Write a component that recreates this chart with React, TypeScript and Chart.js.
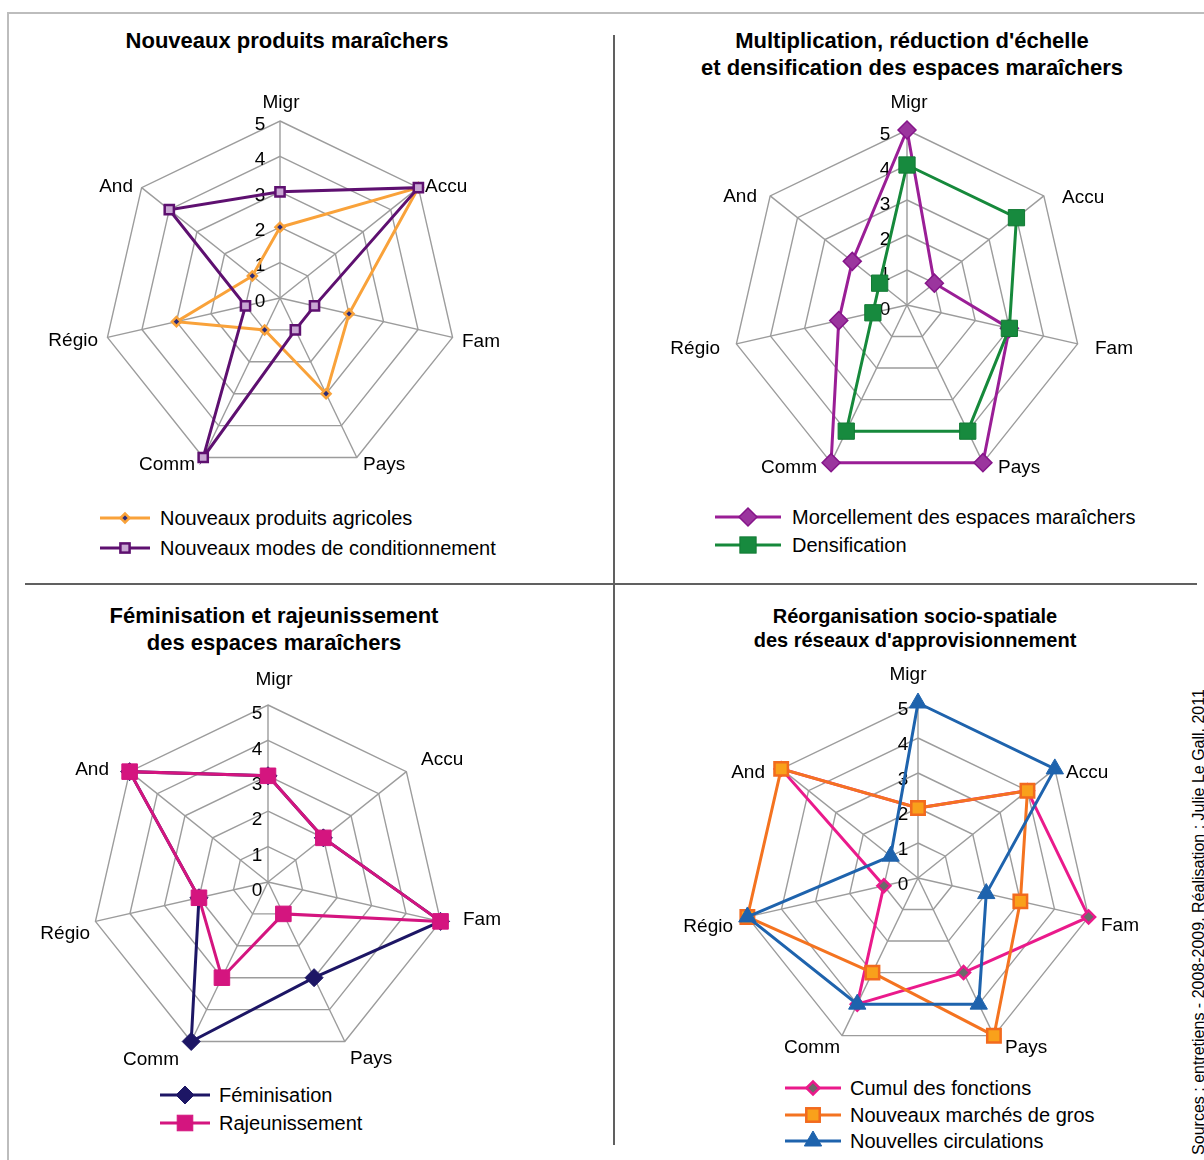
import React, { useEffect, useRef } from 'react';
import { Chart, registerables } from 'chart.js';

Chart.register(...registerables);

const W = 1204;
const H = 1160;
const FONT = '"Liberation Sans", Arial, Helvetica, sans-serif';

// ---------- data ----------
const AXES = ['Migr', 'Accu', 'Fam', 'Pays', 'Comm', 'Régio', 'And'];
const TICKS = [0, 1, 2, 3, 4, 5];

const produitsAgricoles = [2, 5, 2, 3, 1, 3, 1];
const modesConditionnement = [3, 5, 1, 1, 5, 1, 4];

const morcellement = [5, 1, 3, 5, 5, 2, 2];
const densification = [4, 4, 3, 4, 4, 1, 1];

const feminisation = [3, 2, 5, 3, 5, 2, 5];
const rajeunissement = [3, 2, 5, 1, 3, 2, 5];

const cumulFonctions = [2, 4, 5, 3, 4, 1, 5];
const marchesGros = [2, 4, 3, 5, 3, 5, 5];
const nouvellesCirculations = [5, 5, 2, 4, 4, 5, 1];

const TITLES = [
  ['Nouveaux produits maraîchers'],
  ["Multiplication, réduction d'échelle", 'et densification des espaces maraîchers'],
  ['Féminisation et rajeunissement', 'des espaces maraîchers'],
  ['Réorganisation socio-spatiale', "des réseaux d'approvisionnement"],
];
const SOURCE = 'Sources : entretiens - 2008-2009. Réalisation : Julie Le Gall, 2011';

// ---------- styles ----------
type Series = {
  label: string;
  data: number[];
  color: string;
  pointStyle: 'rect' | 'rectRot' | 'triangle';
  radius: number;
  pointFill: string;
  pointBorder: string;
  pointBorderWidth: number;
};

type ChartCfg = {
  cx: number;
  cy: number;
  R: number;
  labelSize: number;
  tickDx: number;
  tickDy: number;
  labelOffsets: number[][];
  title: string[];
  titleSize: number;
  titleX: number;
  titleY: number;
  titleLH: number;
  legend: { x1: number; x2: number; mx: number; tx: number; ys: number[]; size: number };
  series: Series[];
};

const CHARTS: ChartCfg[] = [
  {
    cx: 280, cy: 298, R: 177, labelSize: 19, tickDx: -20, tickDy: 3.5,
    labelOffsets: [[1, -195], [145, -111], [182, 44], [83, 167], [-85, 167], [-182, 43], [-147, -111]],
    title: TITLES[0], titleSize: 22, titleX: 287, titleY: 40, titleLH: 27,
    legend: { x1: 100, x2: 150, mx: 125, tx: 160, ys: [518, 548], size: 20 },
    series: [
      { label: 'Nouveaux produits agricoles', data: produitsAgricoles, color: '#F9A23A', pointStyle: 'rectRot', radius: 4.5, pointFill: '#2A2A78', pointBorder: '#F9A23A', pointBorderWidth: 2.5 },
      { label: 'Nouveaux modes de conditionnement', data: modesConditionnement, color: '#5E1070', pointStyle: 'rect', radius: 6.5, pointFill: '#C9A8D4', pointBorder: '#5E1070', pointBorderWidth: 2.5 },
    ],
  },
  {
    cx: 907, cy: 305, R: 175, labelSize: 19, tickDx: -22, tickDy: 4.5,
    labelOffsets: [[2, -202], [155, -107], [188, 44], [91, 163], [-90, 163], [-187, 44], [-150, -108]],
    title: TITLES[1], titleSize: 22, titleX: 912, titleY: 40, titleLH: 27,
    legend: { x1: 715, x2: 781, mx: 748, tx: 792, ys: [517, 545], size: 20 },
    series: [
      { label: 'Morcellement des espaces maraîchers', data: morcellement, color: '#9A1E96', pointStyle: 'rectRot', radius: 9, pointFill: '#9B359E', pointBorder: '#86158A', pointBorderWidth: 1.5 },
      { label: 'Densification', data: densification, color: '#16893B', pointStyle: 'rect', radius: 11.5, pointFill: '#178A3E', pointBorder: '#127A34', pointBorderWidth: 1 },
    ],
  },
  {
    cx: 268, cy: 882, R: 177, labelSize: 19, tickDx: -11, tickDy: 9,
    labelOffsets: [[6, -202], [153, -122], [195, 38], [82, 177], [-89, 178], [-178, 52], [-159, -112]],
    title: TITLES[2], titleSize: 22, titleX: 274, titleY: 615, titleLH: 27,
    legend: { x1: 160, x2: 210, mx: 185, tx: 219, ys: [1095, 1123], size: 20 },
    series: [
      { label: 'Féminisation', data: feminisation, color: '#1D1665', pointStyle: 'rectRot', radius: 9, pointFill: '#1D1665', pointBorder: '#1D1665', pointBorderWidth: 1 },
      { label: 'Rajeunissement', data: rajeunissement, color: '#D4157F', pointStyle: 'rect', radius: 11, pointFill: '#D4157F', pointBorder: '#D4157F', pointBorderWidth: 1 },
    ],
  },
  {
    cx: 918, cy: 878, R: 175, labelSize: 19, tickDx: -15, tickDy: 6.5,
    labelOffsets: [[-10, -203], [148, -105], [183, 48], [87, 170], [-78, 170], [-185, 49], [-153, -105]],
    title: TITLES[3], titleSize: 20, titleX: 915, titleY: 616, titleLH: 24,
    legend: { x1: 785, x2: 841, mx: 813, tx: 850, ys: [1088, 1115, 1141], size: 20 },
    series: [
      { label: 'Cumul des fonctions', data: cumulFonctions, color: '#EA1A8B', pointStyle: 'rectRot', radius: 6.5, pointFill: '#6A6A6A', pointBorder: '#EA1A8B', pointBorderWidth: 2.5 },
      { label: 'Nouveaux marchés de gros', data: marchesGros, color: '#F47320', pointStyle: 'rect', radius: 9.5, pointFill: '#F9A11B', pointBorder: '#F26A1E', pointBorderWidth: 2.5 },
      { label: 'Nouvelles circulations', data: nouvellesCirculations, color: '#1E63AD', pointStyle: 'triangle', radius: 10, pointFill: '#1E63AD', pointBorder: '#1E63AD', pointBorderWidth: 1 },
    ],
  },
];

const GRID = '#9C9C9C';

function RadarCanvas({ cfg }: { cfg: ChartCfg }) {
  const ref = useRef<HTMLCanvasElement>(null);
  useEffect(() => {
    const canvas = ref.current;
    if (!canvas) return;
    const { cx, cy, R } = cfg;

    const labelsPlugin = {
      id: 'customLabels',
      beforeDatasetsDraw(chart: any) {
        const s = chart.scales.r;
        const ctx = chart.ctx as CanvasRenderingContext2D;
        ctx.save();
        ctx.fillStyle = '#000';
        ctx.font = `${cfg.labelSize}px ${FONT}`;
        ctx.textBaseline = 'middle';
        // tick labels on the first axis
        ctx.textAlign = 'center';
        TICKS.forEach((v) => {
          const p = s.getPointPositionForValue(0, v);
          ctx.fillText(String(v), p.x + cfg.tickDx, p.y + cfg.tickDy);
        });
        // axis (point) labels
        AXES.forEach((lab, i) => {
          const off = cfg.labelOffsets[i];
          ctx.textAlign = i === 0 ? 'center' : i <= 3 ? 'left' : 'right';
          ctx.fillText(lab, s.xCenter + off[0], s.yCenter + off[1]);
        });
        ctx.restore();
      },
    };

    const n = cfg.series.length;
    const chart = new Chart(canvas, {
      type: 'radar',
      data: {
        labels: AXES,
        datasets: cfg.series.map((s, i) => ({
          label: s.label,
          data: s.data,
          borderColor: s.color,
          borderWidth: 3,
          backgroundColor: 'transparent',
          fill: false,
          tension: 0,
          pointStyle: s.pointStyle,
          pointRadius: s.radius,
          pointHoverRadius: s.radius,
          pointBackgroundColor: s.pointFill,
          pointBorderColor: s.pointBorder,
          pointBorderWidth: s.pointBorderWidth,
          order: n - i,
          clip: false,
        })),
      },
      options: {
        responsive: false,
        animation: false,
        devicePixelRatio: 1,
        events: [],
        layout: {
          padding: { left: cx - R, top: cy - R, right: W - cx - R, bottom: H - cy - R },
        },
        plugins: {
          legend: { display: false },
          tooltip: { enabled: false },
          title: { display: false },
        },
        scales: {
          r: {
            min: 0,
            max: 5,
            startAngle: 0,
            beginAtZero: true,
            ticks: { stepSize: 1, display: false },
            grid: { color: GRID, lineWidth: 1.4, circular: false },
            angleLines: { display: true, color: GRID, lineWidth: 1.4 },
            pointLabels: { display: false },
          },
        },
      } as any,
      plugins: [labelsPlugin],
    });
    return () => chart.destroy();
  }, [cfg]);
  return (
    <canvas
      ref={ref}
      width={W}
      height={H}
      style={{ position: 'absolute', left: 0, top: 0, width: W, height: H }}
    />
  );
}

function Marker({ s, x, y }: { s: Series; x: number; y: number }) {
  const r = s.radius;
  const common = { fill: s.pointFill, stroke: s.pointBorder, strokeWidth: s.pointBorderWidth };
  if (s.pointStyle === 'rectRot') {
    return <polygon points={`${x - r},${y} ${x},${y - r} ${x + r},${y} ${x},${y + r}`} {...common} />;
  }
  if (s.pointStyle === 'rect') {
    const h = r * Math.SQRT1_2;
    return <rect x={x - h} y={y - h} width={2 * h} height={2 * h} {...common} />;
  }
  const a = r * Math.sin((2 * Math.PI) / 3);
  const b = -r * Math.cos((2 * Math.PI) / 3);
  return <polygon points={`${x},${y - r} ${x + a},${y + b} ${x - a},${y + b}`} {...common} />;
}

function Overlay() {
  return (
    <svg width={W} height={H} style={{ position: 'absolute', left: 0, top: 0 }} fontFamily={FONT}>
      {/* frame */}
      <line x1={8} y1={13} x2={W} y2={13} stroke="#BDBDBD" strokeWidth={2} />
      <line x1={8} y1={12} x2={8} y2={H} stroke="#BDBDBD" strokeWidth={2} />
      {/* dividers */}
      <line x1={614} y1={35} x2={614} y2={1145} stroke="#606060" strokeWidth={2} />
      <line x1={25} y1={584} x2={1197} y2={584} stroke="#606060" strokeWidth={2} />
      {CHARTS.map((c, ci) => (
        <g key={ci}>
          {c.title.map((t, li) => (
            <text
              key={li}
              x={c.titleX}
              y={c.titleY + li * c.titleLH}
              textAnchor="middle"
              dominantBaseline="central"
              fontWeight="bold"
              fontSize={c.titleSize}
              fill="#000"
            >
              {t}
            </text>
          ))}
          {c.series.map((s, si) => {
            const y = c.legend.ys[si];
            return (
              <g key={si}>
                <line x1={c.legend.x1} y1={y} x2={c.legend.x2} y2={y} stroke={s.color} strokeWidth={3} />
                <Marker s={s} x={c.legend.mx} y={y} />
                <text x={c.legend.tx} y={y} dominantBaseline="central" fontSize={c.legend.size} fill="#000">
                  {s.label}
                </text>
              </g>
            );
          })}
        </g>
      ))}
      <text
        transform={`translate(1204,922) rotate(-90)`}
        textAnchor="middle"
        fontSize={16}
        fill="#000"
      >
        {SOURCE}
      </text>
    </svg>
  );
}

export default function App() {
  return (
    <div
      style={{
        position: 'absolute',
        left: 0,
        top: 0,
        width: W,
        height: H,
        background: '#fff',
        overflow: 'hidden',
      }}
    >
      <Overlay />
      {CHARTS.map((c, i) => (
        <RadarCanvas key={i} cfg={c} />
      ))}
    </div>
  );
}
